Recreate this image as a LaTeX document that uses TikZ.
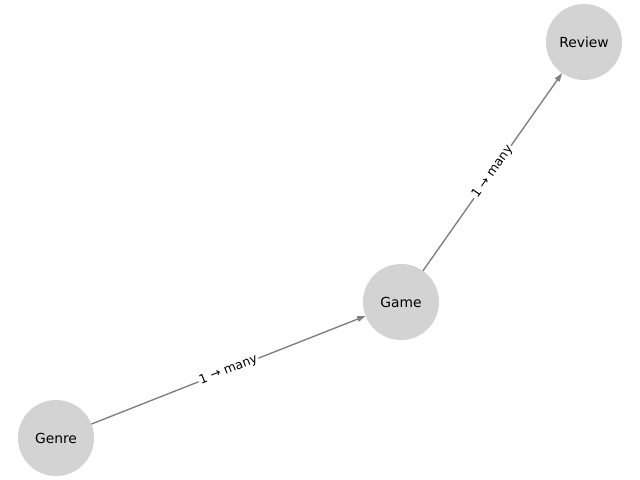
\documentclass[tikz,border=0pt]{standalone}
\usepackage{fontspec}
\setmainfont{DejaVu Sans}
\usetikzlibrary{arrows.meta}
\definecolor{nodegray}{HTML}{D3D3D3}
\definecolor{edgegray}{HTML}{808080}

\begin{document}
\begin{tikzpicture}[x=0.01in,y=-0.01in,
		entity/.style={circle, fill=nodegray, minimum size=0.76in, inner sep=0pt, outer sep=0pt, font=\fontsize{10}{12}\selectfont},
		rel/.style={draw=edgegray, line width=1pt, -{Triangle[length=0.085in,width=0.055in]}},
		card/.style={midway, sloped, fill=white, inner sep=1pt, font=\fontsize{9}{11}\selectfont}]
			\useasboundingbox (0,0) rectangle (640,480);
			\node[entity] (genre) at (56,438) {Genre};
			\node[entity] (game) at (401,302) {Game};
			\node[entity] (review) at (584,42) {Review};
			\draw[rel] (genre) -- (game) node[card]{1 → many};
			\draw[rel] (game) -- (review) node[card]{1 → many};
		\end{tikzpicture}
\end{document}
